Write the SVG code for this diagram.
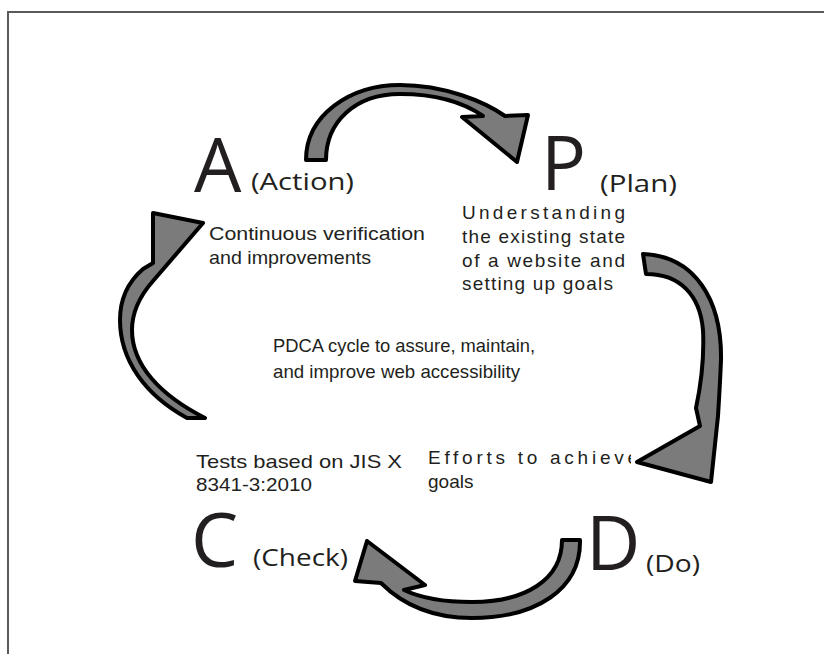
<svg xmlns="http://www.w3.org/2000/svg" width="824" height="654" viewBox="0 0 824 654">
<style>
.big{font-family:"Open Sans","Liberation Sans",sans-serif;font-size:75px;fill:#231f20}
.sub{font-family:"Open Sans","Liberation Sans",sans-serif;font-size:24px;fill:#231f20}
.t{font-family:"Liberation Sans",Arial,sans-serif;font-size:19px;fill:#231f20}
.arr{fill:#7b7b7b;stroke:#000;stroke-width:4;stroke-linejoin:round}
</style>
<defs>
<clipPath id="clipDo"><rect x="400" y="440" width="231" height="60"/></clipPath>
</defs>
<rect width="824" height="654" fill="#fff"/>
<path d="M8 654 V12 H824" fill="none" stroke="#5a5a5a" stroke-width="2"/>
<g id="connectors">
<path class="arr" d="M306 160 C306 115 350 85 400 85 C445 85 485 102 505 116 L528 115 L517 162 L462 117 L483 116 C460 100 430 94 400 94 C355 94 326 122 326 160 Z"/>
<path class="arr" d="M643 254 C695 256 722 300 721 360 C720 385 719 400 718 416 L711 482 L637 462 L700 426 L696 408 C702 380 704 350 703 330 C700 295 680 274 646 274 Z"/>
<path class="arr" d="M580 540 C581 590 535 618 472 618 C435 618 405 607 381 583 L355 581 L367 541 L425 585 L404 590 C425 600 450 602 472 602 C525 602 562 580 562 540 Z"/>
<path class="arr" d="M187 418 C145 395 120 360 120 320 C120 298 128 282 143 269 L153 263 L153 213 L203 223 L153 281 C138 298 132 315 132 330 C132 365 160 395 205 418 Z"/>
</g>
<g id="node-A">
<text class="big" x="194" y="192">A</text>
<text class="sub" x="251" y="190" textLength="103" lengthAdjust="spacingAndGlyphs">(Action)</text>
<text class="t" x="209" y="240" textLength="216" lengthAdjust="spacingAndGlyphs">Continuous verification</text>
<text class="t" x="209" y="264" textLength="162" lengthAdjust="spacingAndGlyphs">and improvements</text>
</g>
<g id="node-P">
<text class="big" x="541" y="190">P</text>
<text class="sub" x="600" y="192" textLength="77" lengthAdjust="spacingAndGlyphs">(Plan)</text>
<text class="t" x="462" y="219" textLength="163">Understanding</text>
<text class="t" x="462" y="243" textLength="163">the existing state</text>
<text class="t" x="462" y="267" textLength="163">of a website and</text>
<text class="t" x="462" y="290" textLength="151">setting up goals</text>
</g>
<g id="node-center">
<text class="t" x="273" y="352" textLength="262" lengthAdjust="spacingAndGlyphs">PDCA cycle to assure, maintain,</text>
<text class="t" x="273" y="378" textLength="247" lengthAdjust="spacingAndGlyphs">and improve web accessibility</text>
</g>
<g id="node-D">
<text class="big" x="586" y="570">D</text>
<text class="sub" x="646" y="572" textLength="54" lengthAdjust="spacingAndGlyphs">(Do)</text>
<text class="t" x="428" y="464" textLength="210" clip-path="url(#clipDo)">Efforts to achieve</text>
<text class="t" x="428" y="488">goals</text>
</g>
<g id="node-C">
<text class="big" x="191" y="567">C</text>
<text class="sub" x="253" y="566" textLength="95" lengthAdjust="spacingAndGlyphs">(Check)</text>
<text class="t" x="196" y="468" textLength="206" lengthAdjust="spacingAndGlyphs">Tests based on JIS X</text>
<text class="t" x="196" y="491" textLength="116" lengthAdjust="spacingAndGlyphs">8341-3:2010</text>
</g>
</svg>
